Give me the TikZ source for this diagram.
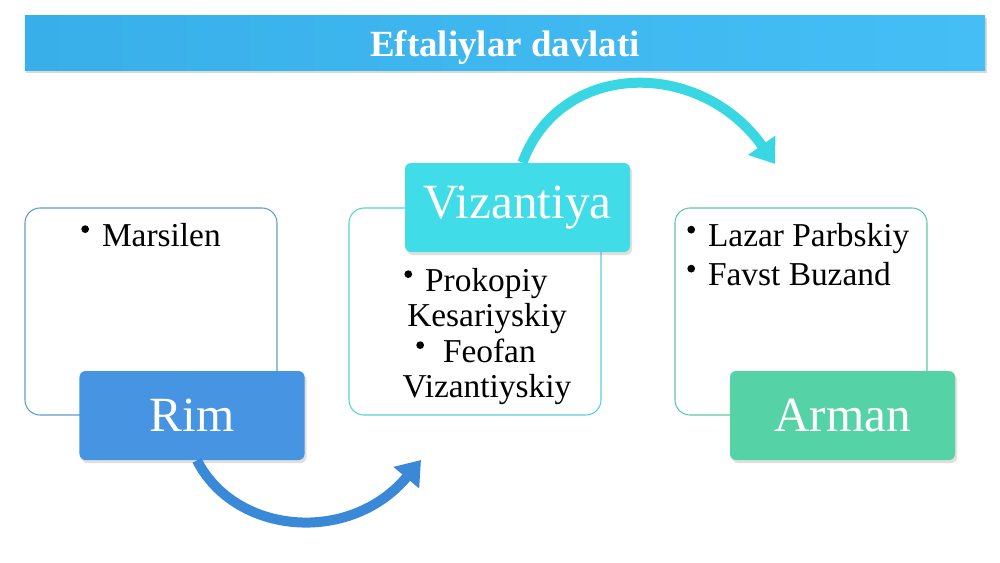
\documentclass[tikz,border=0pt]{standalone}
\usepackage{fontspec}
\setmainfont{Liberation Serif}
\usetikzlibrary{arrows.meta,shadows}
\definecolor{titleedge}{HTML}{38AFE8}
\definecolor{titlemid}{HTML}{1E9ED5}
\definecolor{titleright}{HTML}{45BEF6}
\definecolor{rimedge}{HTML}{4694E2}
\definecolor{rimmid}{HTML}{2E7BC5}
\definecolor{rimline}{HTML}{5B9BD5}
\definecolor{rimarrow}{HTML}{3A89D8}
\definecolor{vizedge}{HTML}{40DDE8}
\definecolor{vizmid}{HTML}{2BC3D2}
\definecolor{vizline}{HTML}{55D0DA}
\definecolor{vizarrow}{HTML}{38D7E3}
\definecolor{armedge}{HTML}{55D3A6}
\definecolor{armmid}{HTML}{3CB88C}
\definecolor{armline}{HTML}{5CC9A0}
\newcommand{\blt}{\tikz[x=1cm,y=1cm,baseline=-9.6pt]\fill (0,0) circle[radius=2.2pt];\hspace{7.4pt}}
\begin{document}
\begin{tikzpicture}[x=0.2mm,y=-0.2mm,
	titlebar/.style={minimum width=192mm,minimum height=11mm,text height=16.4pt,text depth=0pt,left color=titleedge,middle color=titlemid,right color=titleright,text=white,font=\fontsize{21}{23}\selectfont\bfseries,drop shadow={opacity=0.3,shadow xshift=0.3mm,shadow yshift=-0.6mm}},
	infobox/.style={draw=#1,line width=0.6pt,rounded corners=3mm,fill=white,minimum width=50.4mm,minimum height=41.4mm},
	tagbox/.style={rounded corners=1.2mm,minimum width=45mm,minimum height=17.8mm,text=white,font=\fontsize{28}{30}\selectfont,drop shadow={opacity=0.25,shadow xshift=0.4mm,shadow yshift=-0.6mm}},
	itemtext/.style={inner sep=0pt,font=\fontsize{19}{20.2}\selectfont},
	bendarrow/.style={line width=2mm,-{Triangle[length=4.6mm,width=6.4mm]}}]
	\useasboundingbox (0,0) rectangle (1000,562);
	\node[titlebar] (title) at (505,42.5) {Eftaliylar davlati};
	\node[infobox=rimline] (rimbox) at (151,311.5) {};
	\node[infobox=vizline] (vizbox) at (475,311.5) {};
	\node[infobox=armline] (armbox) at (801,311.5) {};
	\node[tagbox,left color=rimedge,middle color=rimmid,right color=rimedge] (rim) at (192,415.5) {Rim};
	\node[tagbox,left color=vizedge,middle color=vizmid,right color=vizedge] (viz) at (517.5,207.5) {Vizantiya};
	\node[tagbox,left color=armedge,middle color=armmid,right color=armedge] (arm) at (842.5,415.5) {Arman};
	\node[itemtext,anchor=base] (marsilen) at (151,246) {\blt Marsilen};
	\node[itemtext,align=center,anchor=north] (viznames) at (487,267.5) {\blt Prokopiy\kern12.5pt\\Kesariyskiy\\\blt\hspace{3.4pt}Feofan\kern12.5pt\\Vizantiyskiy};
	\node[itemtext,align=left,anchor=north west] (armnames) at (687,223) {\blt Lazar Parbskiy\\[2pt]\blt Favst Buzand};
	\coordinate (rimtip) at (421,460);
	\coordinate (viztip) at (775,164);
	\draw[bendarrow,rimarrow] ([xshift=1mm]rim.south) .. controls (235,535) and (350,545) .. (rimtip);
	\draw[bendarrow,vizarrow] ([xshift=1mm]viz.north) .. controls (560,60) and (700,58) .. (viztip);
\end{tikzpicture}
\end{document}
